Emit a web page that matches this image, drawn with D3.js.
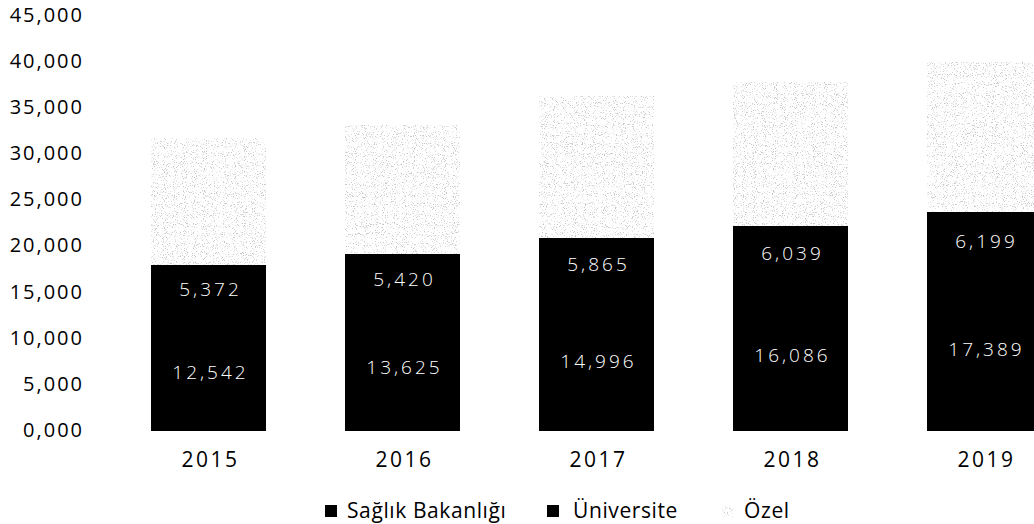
<!DOCTYPE html>
<html>
<head>
<meta charset="utf-8">
<script src="https://cdn.jsdelivr.net/npm/d3@7"></script>
<style>
  body { margin: 0; background: #fff; }
  text { font-family: 'Open Sans', sans-serif; }
</style>
</head>
<body>
<div id="chart"></div>
<script>
// data
const years = ['2015', '2016', '2017', '2018', '2019'];
const saglik = [12542, 13625, 14996, 16086, 17389];
const universite = [5372, 5420, 5865, 6039, 6199];
const ozel = [13700, 14000, 15400, 15650, 16350];
const yTicks = [0, 5000, 10000, 15000, 20000, 25000, 30000, 35000, 40000, 45000];
const seriesNames = ['Sağlık Bakanlığı', 'Üniversite', 'Özel'];

const width = 1034;
const height = 524;

const rows = years.map((y, i) => ({
  year: y,
  saglik: saglik[i],
  universite: universite[i],
  ozel: ozel[i],
}));

const svg = d3
  .select('#chart')
  .append('svg')
  .attr('width', width)
  .attr('height', height);

// stipple texture for the "Özel" segments
const defs = svg.append('defs');
const filter = defs
  .append('filter')
  .attr('id', 'stipple')
  .attr('x', 0)
  .attr('y', 0)
  .attr('width', 1)
  .attr('height', 1);
filter
  .append('feTurbulence')
  .attr('type', 'fractalNoise')
  .attr('baseFrequency', 0.9)
  .attr('numOctaves', 2)
  .attr('seed', 7)
  .attr('result', 'noise');
filter
  .append('feColorMatrix')
  .attr('in', 'noise')
  .attr('type', 'matrix')
  .attr('values', '0 0 0 0 0.58  0 0 0 0 0.58  0 0 0 0 0.58  1 0 0 0 0')
  .attr('result', 'gray');
filter
  .append('feComponentTransfer')
  .attr('in', 'gray')
  .attr('result', 'dots')
  .append('feFuncA')
  .attr('type', 'linear')
  .attr('slope', 6)
  .attr('intercept', -3.4);
filter
  .append('feComposite')
  .attr('in', 'dots')
  .attr('in2', 'SourceGraphic')
  .attr('operator', 'in');

// scales
const x = d3
  .scaleBand()
  .domain(years)
  .range([111.5, 1081.5])
  .paddingInner(0.41)
  .paddingOuter(0.205);

const y = d3.scaleLinear().domain([0, 45000]).range([430, 15]);

const fmt = d3.format(',');

// Y axis (labels only)
const yAxis = svg
  .append('g')
  .attr('transform', 'translate(84,0)')
  .call(
    d3
      .axisLeft(y)
      .tickValues(yTicks)
      .tickSize(0)
      .tickPadding(0)
      .tickFormat((d) => (d === 0 ? '0,000' : fmt(d)))
  );
yAxis.select('.domain').remove();
yAxis
  .selectAll('text')
  .attr('font-family', "'Open Sans', sans-serif")
  .attr('font-size', 20)
  .attr('letter-spacing', 2)
  .attr('fill', '#000');

// X axis (labels only)
const xAxis = svg
  .append('g')
  .attr('transform', 'translate(2,452)')
  .call(d3.axisBottom(x).tickSize(0).tickPadding(0));
xAxis.select('.domain').remove();
xAxis
  .selectAll('text')
  .attr('font-family', "'Open Sans', sans-serif")
  .attr('font-size', 21)
  .attr('letter-spacing', 2.5)
  .attr('fill', '#000');

// stacked bars
const stack = d3.stack().keys(['saglik', 'universite', 'ozel'])(rows);

const layers = svg
  .selectAll('.layer')
  .data(stack)
  .enter()
  .append('g')
  .attr('class', 'layer');

layers
  .selectAll('rect')
  .data((d) => d.map((v) => ({ key: d.key, v })))
  .enter()
  .append('rect')
  .attr('x', (d) => x(d.v.data.year))
  .attr('y', (d) => y(d.v[1]))
  .attr('width', x.bandwidth())
  .attr('height', (d) => y(d.v[0]) - y(d.v[1]) + (d.key === 'ozel' ? 0 : 1))
  .attr('fill', '#000')
  .attr('shape-rendering', 'crispEdges')
  .attr('filter', (d) => (d.key === 'ozel' ? 'url(#stipple)' : null));

// value labels on the black segments
layers
  .filter((d) => d.key !== 'ozel')
  .selectAll('text')
  .data((d) => d)
  .enter()
  .append('text')
  .attr('x', (d) => x(d.data.year) + x.bandwidth() / 2 + 2)
  .attr('y', (d) => (y(d[0]) + y(d[1])) / 2)
  .attr('dy', '0.35em')
  .attr('text-anchor', 'middle')
  .attr('fill', '#fff')
  .attr('font-size', 19)
  .attr('font-weight', 300)
  .attr('letter-spacing', 3)
  .text((d) => fmt(d[1] - d[0]));

// legend
const legendX = [325, 547, 722];
const legend = svg
  .append('g')
  .selectAll('g')
  .data(seriesNames)
  .enter()
  .append('g')
  .attr('transform', (d, i) => `translate(${legendX[i]},505)`);

legend
  .append('rect')
  .attr('width', 12)
  .attr('height', 12)
  .attr('fill', '#000')
  .attr('filter', (d, i) => (i === 2 ? 'url(#stipple)' : null));

legend
  .append('text')
  .attr('x', (d, i) => (i === 1 ? 26 : 22))
  .attr('y', 13)
  .attr('font-size', 21)
  .attr('letter-spacing', 0.6)
  .attr('fill', '#000')
  .text((d) => d);
</script>
</body>
</html>
